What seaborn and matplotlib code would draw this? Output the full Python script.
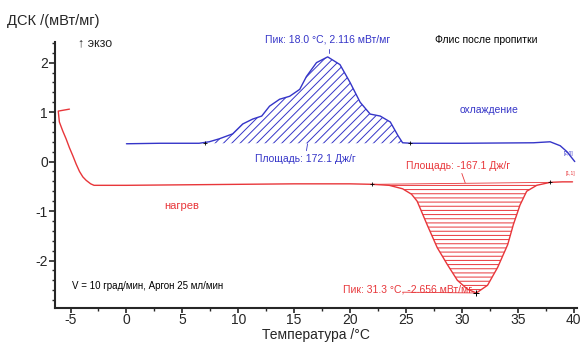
import numpy as np
import pandas as pd
import seaborn as sns
import matplotlib
matplotlib.use("Agg")
import matplotlib.pyplot as plt
from matplotlib.ticker import MultipleLocator

# ---- data ----
heat_T = [-5.1, -6.1, -6.0, -5.7, -5.4, -5.1, -4.8, -4.5, -4.2, -3.9, -3.6, -3.2, -2.9, 0.0, 5.0,
          10.0, 15.0, 20.0, 22.0, 23.5, 24.7, 25.5, 26.0, 26.9, 27.8, 28.7, 29.6, 30.5, 31.3,
          32.3, 33.2, 34.1, 34.6, 35.2, 35.8, 36.7, 37.9, 39.0, 39.9]
heat_v = [1.06, 1.02, 0.80, 0.62, 0.46, 0.28, 0.12, -0.05, -0.20, -0.31, -0.38, -0.45, -0.48, -0.48, -0.47,
          -0.46, -0.45, -0.45, -0.46, -0.48, -0.55, -0.66, -0.80, -1.28, -1.74, -2.08, -2.40, -2.58, -2.656,
          -2.50, -2.14, -1.68, -1.28, -0.88, -0.60, -0.48, -0.42, -0.41, -0.41]

cool_T = [0.0, 3.0, 6.5, 7.4, 8.3, 9.5, 10.4, 11.3, 12.1, 12.8, 13.7, 14.6, 15.5, 16.1, 17.0, 18.0,
          19.1, 20.0, 20.9, 21.8, 22.7, 23.6, 24.3, 24.7, 25.5, 30.0, 36.4, 37.9, 38.8, 39.4, 40.1]
cool_v = [0.36, 0.37, 0.37, 0.40, 0.46, 0.56, 0.76, 0.86, 0.92, 1.12, 1.26, 1.32, 1.46, 1.72, 2.00, 2.116,
          1.96, 1.60, 1.20, 0.96, 0.92, 0.80, 0.52, 0.38, 0.37, 0.37, 0.38, 0.40, 0.32, 0.20, 0.00]

x_ticks = [-5, 0, 5, 10, 15, 20, 25, 30, 35, 40]
y_ticks = [-2, -1, 0, 1, 2]

BLUE = "#3535c8"
RED = "#e8363a"

sns.set_style("ticks")
plt.rcParams["font.family"] = ["Liberation Sans", "DejaVu Sans"]
plt.rcParams["hatch.linewidth"] = 0.7
plt.rcParams["axes.unicode_minus"] = False

fig = plt.figure(figsize=(5.84, 3.43), dpi=100)
ax = fig.add_axes([0.094, 0.102, 0.894, 0.776])

heat = pd.DataFrame({"T": heat_T, "v": heat_v, "s": "нагрев"})
cool = pd.DataFrame({"T": cool_T, "v": cool_v, "s": "охлаждение"})

sns.lineplot(data=heat, x="T", y="v", sort=False, estimator=None, color=RED, lw=1.0, ax=ax)
sns.lineplot(data=cool, x="T", y="v", sort=False, estimator=None, color=BLUE, lw=1.0, ax=ax)

# hatched peak areas
cT = np.array(cool_T); cv = np.array(cool_v)
m = (cT >= 7.0) & (cT <= 24.7)
plt.rcParams["hatch.color"] = BLUE
ax.fill_between(cT[m], cv[m], 0.37, facecolor="none", edgecolor=BLUE, hatch="////", linewidth=0)
hT = np.array(heat_T); hv = np.array(heat_v)
m2 = (np.arange(len(hT)) >= 18) & (hT <= 37.9)
base = np.interp(hT[m2], [22.0, 37.9], [-0.46, -0.42])
plt.rcParams["hatch.color"] = RED
ax.fill_between(hT[m2], hv[m2], base, facecolor="none", edgecolor=RED, hatch="----", linewidth=0)
ax.plot([22.0, 37.9], [-0.46, -0.42], color=RED, lw=0.6)

ax.set_xlim(-6.4, 40.3)
ax.set_ylim(-2.96, 2.42)
ax.set_xticks(x_ticks)
ax.set_yticks(y_ticks)
ax.xaxis.set_minor_locator(MultipleLocator(2.5))
ax.yaxis.set_minor_locator(MultipleLocator(0.2))
ax.tick_params(axis="both", which="major", labelsize=10, length=4, width=1.2, pad=1)
ax.tick_params(axis="x", which="major", pad=0, length=3.5)
ax.tick_params(axis="both", which="minor", length=2, width=1.0)
for s in ("top", "right"):
    ax.spines[s].set_visible(False)
for s in ("left", "bottom"):
    ax.spines[s].set_linewidth(1.5)
ax.set_xlabel("Температура /°C", fontsize=10, labelpad=0)
ax.set_ylabel("")
ax.xaxis.set_label_coords(0.5, -0.074)

fig.text(0.012, 0.94, "ДСК /(мВт/мг)", fontsize=10.5, ha="left", va="center")

kw = dict(clip_on=False)
ax.text(-4.3, 2.4, "↑ экзо", fontsize=9, ha="left", va="center", **kw)
ax.text(18.0, 2.46, "Пик: 18.0 °C, 2.116 мВт/мг", fontsize=7.5, color=BLUE, ha="center", va="center", **kw)
ax.plot([18.1, 18.1], [2.28, 2.2], color=BLUE, lw=0.6)
ax.text(32.2, 2.46, "Флис после пропитки", fontsize=7.5, color="black", ha="center", va="center", **kw)
ax.text(32.4, 1.04, "охлаждение", fontsize=7.5, color=BLUE, ha="center", va="center", **kw)
ax.text(16.0, 0.06, "Площадь: 172.1 Дж/г", fontsize=7.5, color=BLUE, ha="center", va="center", **kw)
ax.plot([16.1, 16.2], [0.22, 0.36], color=BLUE, lw=0.6)
ax.text(29.7, -0.08, "Площадь: -167.1 Дж/г", fontsize=7.5, color=RED, ha="center", va="center", **kw)
ax.plot([30.0, 30.3], [-0.24, -0.43], color=RED, lw=0.6)
ax.text(4.9, -0.9, "нагрев", fontsize=8, color=RED, ha="center", va="center", **kw)
ax.text(-4.9, -2.52, "V = 10 град/мин, Аргон 25 мл/мин", fontsize=7, color="black", ha="left", va="center", **kw)
ax.text(30.9, -2.58, "Пик: 31.3 °C, -2.656 мВт/мг", fontsize=7.5, color=RED, ha="right", va="center", **kw)
ax.plot([24.7, 31.3], [-2.64, -2.656], color=RED, lw=0.6)
ax.plot([31.3], [-2.656], marker="+", color="black", ms=4, mew=0.7)
ax.plot([22.0, 37.9], [-0.46, -0.42], ls="none", marker="+", color="black", ms=3, mew=0.6)
ax.plot([7.0, 25.4], [0.37, 0.37], ls="none", marker="+", color="black", ms=3, mew=0.6)
ax.text(39.5, 0.16, "[2,0]", fontsize=3.5, color=BLUE, ha="center", va="center", **kw)
ax.text(39.7, -0.24, "[1,1]", fontsize=3.5, color=RED, ha="center", va="center", **kw)

fig.savefig("out.png", dpi=100)
